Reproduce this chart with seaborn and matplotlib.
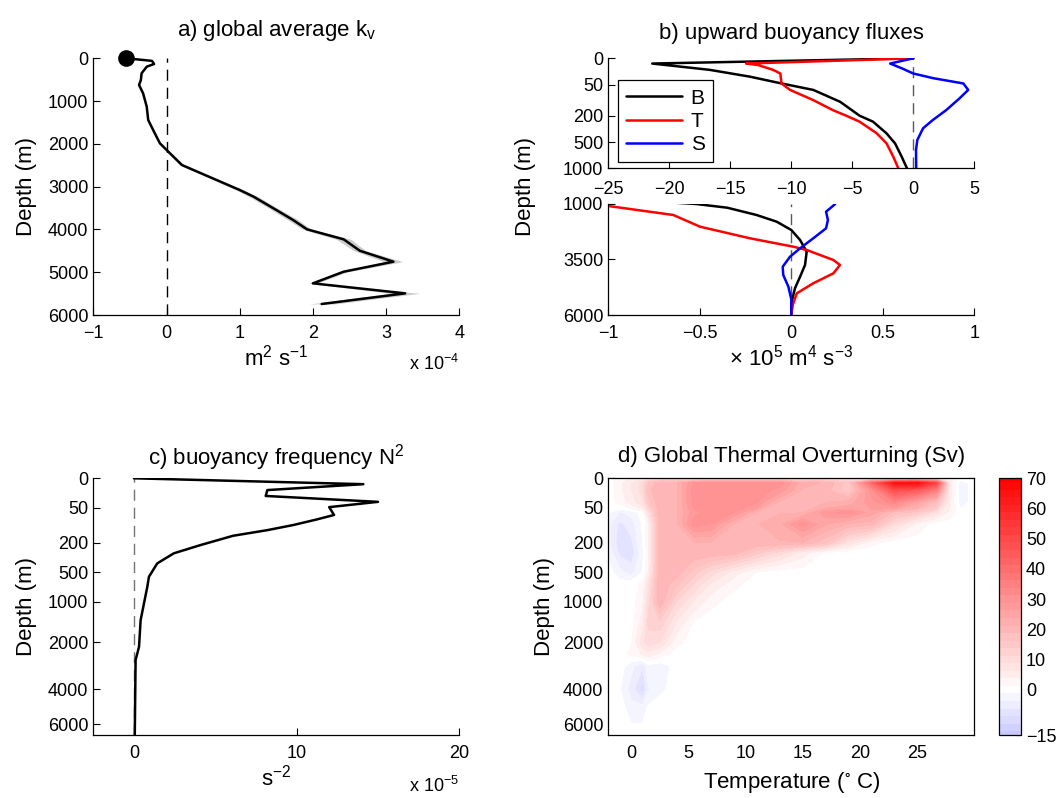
import numpy as np
import matplotlib
matplotlib.use("Agg")
import matplotlib.pyplot as plt
from matplotlib.colors import LinearSegmentedColormap
import seaborn as sns

# ---------------- data ----------------
# a) global average k_v  (x 1e-4 m2/s)
kv_depth = [0, 60, 80, 133, 196, 350, 507, 624, 818, 1131, 1442, 1753, 1987, 2183,
            2494, 3078, 3234, 3546, 3780, 3998, 4231, 4497, 4754, 4988, 5260, 5494, 5743]
kv = [-0.55, -0.2, -0.19, -0.17, -0.27, -0.34, -0.35, -0.375, -0.32, -0.27, -0.25, -0.16,
      -0.09, 0.025, 0.21, 1.0, 1.19, 1.5, 1.73, 1.92, 2.42, 2.64, 3.1, 2.42, 2.0, 3.26, 2.12]
kv_err = [0, 0, 0, 0, 0, 0, 0, 0, 0, 0, 0.01, 0.01, 0.01, 0.02, 0.03, 0.05, 0.06, 0.06,
          0.07, 0.06, 0.1, 0.08, 0.13, 0.06, 0.05, 0.2, 0.17]

# b) upward buoyancy fluxes (x 1e5 m4/s3)
b_depth = [0, 10, 22, 35, 48, 76, 133, 200, 268, 400, 523, 779, 1000, 1167, 1495, 1797,
           2171, 2622, 3149, 3748, 4275, 4797, 5400, 6000]
b_flux = [0, -21.4, -16.7, -13.4, -10.8, -8.2, -6.0, -4.4, -3.3, -2.2, -1.5, -0.95, -0.52,
          -0.35, -0.19, -0.08, 0.0, 0.048, 0.084, 0.075, 0.048, 0.02, 0.002, 0]
t_depth = [0, 10, 13, 22, 29, 48, 76, 125, 173, 200, 268, 400, 523, 779, 1000, 1090, 1495,
           2022, 2545, 2923, 3072, 3523, 3748, 4122, 4572, 5023, 5550, 6000]
t_flux = [0, -13.7, -12.7, -11.5, -10.9, -10.8, -10.1, -8.2, -6.6, -5.5, -4.4, -3.0, -2.2,
          -1.64, -1.23, -1.0, -0.645, -0.499, -0.226, 0.011, 0.084, 0.23, 0.266, 0.23,
          0.12, 0.03, 0.008, 0]
s_depth = [0, 10, 19, 29, 38, 48, 76, 116, 173, 249, 343, 476, 651, 1000, 1347, 1721, 2095,
           2545, 2995, 3374, 3824, 4198, 4725, 5300, 6000]
s_flux = [0, -1.9, -0.95, 0, 1.64, 4.1, 4.5, 3.8, 2.7, 1.6, 0.8, 0.33, 0.22, 0.24, 0.19,
          0.2, 0.19, 0.12, 0.048, -0.007, -0.047, -0.044, -0.016, 0, 0]

# c) buoyancy frequency N^2 (x 1e-5 s^-2)
n2_depth = [0, 10, 20, 30, 40, 49, 81, 100, 124, 146, 170, 223, 307, 409, 575, 745, 1450,
            2187, 2750, 6600]
n2 = [0, 14.1, 8.2, 8.1, 15.0, 12.0, 12.3, 11.25, 9.8, 8.2, 6.1, 4.1, 2.45, 1.43, 0.92,
      0.82, 0.41, 0.31, 0.1, 0.05]

# d) global thermal overturning (Sv) on a coarse temperature / depth grid
temp_nodes = [-2, -1, 0, 1, 1.5, 2.5, 4, 5.5, 7, 9, 11, 13, 15, 17, 19, 21, 23, 25, 26.7,
              27.8, 28.8, 30]
depth_nodes = [0, 8, 20, 40, 70, 120, 200, 300, 500, 700, 1000, 1500, 2000, 2500, 3000,
               4000, 5000, 6600]
psi = [
    [0, 2, 4, 6, 8, 10, 10, 10, 11, 11, 11, 11, 10, 10, 10, 10, 12, 12, 10, 3, 0, 0],
    [0, 3, 6, 10, 16, 21, 21, 29, 30, 30, 30, 30, 22, 21, 15, 40, 64, 66, 50, 6, -3, 0],
    [0, 3, 6, 10, 18, 21, 21, 30, 30, 30, 30, 28, 21, 20, 14, 30, 48, 45, 35, 6, -3, 0],
    [0, 2, 5, 8, 15, 21, 21, 30, 30, 30, 29, 21, 21, 21, 22, 28, 33, 25, 18, 5, -3, 0],
    [-1, -4, -3, 0, 8, 21, 21, 28, 30, 29, 21, 21, 21, 28, 30, 25, 18, 15, 8, 3, 0, 0],
    [-3, -7, -5, -1, 3, 21, 21, 30, 29, 21, 21, 23, 30, 24, 21, 20, 10, 3, 0, 0, 0, 0],
    [-3, -8, -7, -1, 3, 21, 21, 21, 21, 21, 21, 21, 21, 17, 8, 2, 0, 0, 0, 0, 0, 0],
    [-2, -7, -8, -2, 3, 21, 21, 21, 21, 20, 15, 10, 5, 1, 0, 0, 0, 0, 0, 0, 0, 0],
    [0, -3, -5, -1, 4, 21, 20, 15, 10, 5, 1, 0, 0, 0, 0, 0, 0, 0, 0, 0, 0, 0],
    [0, 0, 0, 2, 8, 21, 17, 11, 6, 2, 0, 0, 0, 0, 0, 0, 0, 0, 0, 0, 0, 0],
    [0, 0, 0, 3, 10, 21, 11, 6, 2, 0, 0, 0, 0, 0, 0, 0, 0, 0, 0, 0, 0, 0],
    [0, 0, 0, 5, 12, 13, 6, 1, 0, 0, 0, 0, 0, 0, 0, 0, 0, 0, 0, 0, 0, 0],
    [0, 0, 1, 8, 10, 9, 2, 0, 0, 0, 0, 0, 0, 0, 0, 0, 0, 0, 0, 0, 0, 0],
    [0, 0, 2, 4, 5, 3, 0, 0, 0, 0, 0, 0, 0, 0, 0, 0, 0, 0, 0, 0, 0, 0],
    [0, 0, -3, -6, -2, -3, 0, 0, 0, 0, 0, 0, 0, 0, 0, 0, 0, 0, 0, 0, 0, 0],
    [0, -1, -5, -10, -4, -2, 0, 0, 0, 0, 0, 0, 0, 0, 0, 0, 0, 0, 0, 0, 0, 0],
    [0, 0, -3, -3, -1, 0, 0, 0, 0, 0, 0, 0, 0, 0, 0, 0, 0, 0, 0, 0, 0, 0],
    [0, 0, 0, 0, 0, 0, 0, 0, 0, 0, 0, 0, 0, 0, 0, 0, 0, 0, 0, 0, 0, 0],
]
cbar_ticks = [-15, 0, 10, 20, 30, 40, 50, 60, 70]

# stretched depth axis used in b (upper) c and d
SCALE_D = [-10000, 0, 50, 200, 500, 1000, 2000, 4000, 6000, 100000]
SCALE_P = [-5880, 0, 29.4, 64.4, 94, 123.4, 164, 211, 246, 1891]


def depth_fwd(d):
    return np.interp(d, SCALE_D, SCALE_P)


def depth_inv(p):
    return np.interp(p, SCALE_P, SCALE_D)


# ---------------- style ----------------
sns.set_style("ticks")
plt.rcParams['font.family'] = ['Liberation Sans', 'DejaVu Sans']
plt.rcParams['mathtext.default'] = 'regular'
plt.rcParams['font.size'] = 13
plt.rcParams['text.color'] = 'black'
plt.rcParams['axes.labelcolor'] = 'black'
plt.rcParams['xtick.direction'] = 'in'
plt.rcParams['ytick.direction'] = 'in'
plt.rcParams['xtick.major.size'] = 5
plt.rcParams['ytick.major.size'] = 5
plt.rcParams['xtick.major.pad'] = 7
plt.rcParams['axes.linewidth'] = 0.9
plt.rcParams['axes.edgecolor'] = 'black'
plt.rcParams['xtick.color'] = 'black'
plt.rcParams['ytick.color'] = 'black'

TITLE = 16
LABEL = 16

fig = plt.figure(figsize=(10.59, 7.98), dpi=100)


def box(l, t, r, b):
    return [l / 1059, 1 - b / 798, (r - l) / 1059, (b - t) / 798]


ax_a = fig.add_axes(box(93.3, 58.3, 459.3, 315))
ax_bt = fig.add_axes(box(608.3, 58.3, 974.3, 168.3))
ax_bb = fig.add_axes(box(608.3, 204, 974.3, 315))
ax_c = fig.add_axes(box(93.3, 478.3, 459.3, 735))
ax_d = fig.add_axes(box(608.3, 478.3, 974.3, 735))
cax = fig.add_axes(box(999, 478.3, 1021, 735))

# ---- a) ----
kv_a = np.array(kv)
err_a = np.array(kv_err)
ax_a.fill_betweenx(kv_depth, kv_a - err_a, kv_a + err_a, color='0.8', lw=0)
sns.lineplot(x=kv, y=kv_depth, orient='y', sort=False, estimator=None,
             color='k', linewidth=1.8, ax=ax_a)
ax_a.plot(kv[0], kv_depth[0], 'o', color='k', ms=11, clip_on=False, zorder=5)
ax_a.axvline(0, color='k', ls=(0, (8, 5)), lw=1)
ax_a.set_xlim(-1, 4)
ax_a.set_ylim(6000, 0)
ax_a.set_xticks(range(-1, 5))
ax_a.set_yticks(range(0, 6001, 1000))
ax_a.set_title(r'a) global average k$_v$', fontsize=TITLE, pad=16)
ax_a.set_xlabel(r'm$^2$ s$^{-1}$', fontsize=LABEL, labelpad=2)
ax_a.set_ylabel('Depth (m)', fontsize=LABEL, labelpad=8)
ax_a.text(1.0, -0.19, r'x 10$^{-4}$', transform=ax_a.transAxes, ha='right', va='center',
          fontsize=13)
sns.despine(ax=ax_a)

# ---- b) ----
for ax in (ax_bt, ax_bb):
    ax.axvline(0, color='0.35', ls=(0, (8, 5)), lw=1)
    sns.lineplot(x=b_flux, y=b_depth, orient='y', sort=False, estimator=None,
                 color='k', linewidth=1.8, ax=ax, label='B' if ax is ax_bt else None)
    sns.lineplot(x=t_flux, y=t_depth, orient='y', sort=False, estimator=None,
                 color='#ff0000', linewidth=1.8, ax=ax, label='T' if ax is ax_bt else None)
    sns.lineplot(x=s_flux, y=s_depth, orient='y', sort=False, estimator=None,
                 color='#0000ff', linewidth=1.8, ax=ax, label='S' if ax is ax_bt else None)
    sns.despine(ax=ax)

ax_bt.set_yscale('function', functions=(depth_fwd, depth_inv))
ax_bt.set_ylim(1000, 0)
ax_bt.set_yticks([0, 50, 200, 500, 1000])
ax_bt.yaxis.set_minor_locator(matplotlib.ticker.NullLocator())
ax_bt.set_xlim(-25, 5)
ax_bt.set_xticks(range(-25, 6, 5))
ax_bt.tick_params(axis='x', pad=9)
ax_bt.set_title('b) upward buoyancy fluxes', fontsize=TITLE, pad=14)
ax_bt.legend(loc='upper left', bbox_to_anchor=(0.026, 0.80), frameon=True, fancybox=False,
             edgecolor='black', framealpha=1, fontsize=15, handlelength=2.7,
             labelspacing=0.2, borderpad=0.4, handletextpad=0.4, borderaxespad=0)
ax_bt.get_legend().get_frame().set_linewidth(0.9)

ax_bb.set_ylim(6000, 1000)
ax_bb.set_yticks([1000, 3500, 6000])
ax_bb.set_xlim(-1, 1)
ax_bb.set_xticks([-1, -0.5, 0, 0.5, 1])
ax_bb.set_xticklabels(['\u22121', '\u22120.5', '0', '0.5', '1'])
ax_bb.set_xlabel(r'$\times$ 10$^5$ m$^4$ s$^{-3}$', fontsize=LABEL, labelpad=2)
fig.text(525 / 1059, 1 - 187 / 798, 'Depth (m)', rotation=90, ha='center', va='center',
         fontsize=LABEL)

# ---- c) ----
ax_c.axvline(0, color='0.45', ls=(0, (8, 5)), lw=1)
sns.lineplot(x=n2, y=n2_depth, orient='y', sort=False, estimator=None,
             color='k', linewidth=1.8, ax=ax_c)
ax_c.set_yscale('function', functions=(depth_fwd, depth_inv))
ax_c.set_ylim(6600, 0)
ax_c.set_yticks([0, 50, 200, 500, 1000, 2000, 4000, 6000])
ax_c.yaxis.set_minor_locator(matplotlib.ticker.NullLocator())
ax_c.set_xlim(-2.5, 20)
ax_c.set_xticks([0, 10, 20])
ax_c.set_title(r'c) buoyancy frequency N$^2$', fontsize=TITLE, pad=10)
ax_c.set_xlabel(r's$^{-2}$', fontsize=LABEL, labelpad=2)
ax_c.set_ylabel('Depth (m)', fontsize=LABEL, labelpad=8)
ax_c.text(1.0, -0.2, r'x 10$^{-5}$', transform=ax_c.transAxes, ha='right', va='center',
          fontsize=13)
sns.despine(ax=ax_c)

# ---- d) ----
cmap = LinearSegmentedColormap.from_list(
    'bwr_part', [(0, (0.786, 0.786, 1.0)), (15 / 85, (1, 1, 1)), (1, (1, 0, 0))])
levels = np.arange(-16.25, 71.3, 2.5)
cf = ax_d.contourf(temp_nodes, depth_nodes, np.array(psi), levels=levels, cmap=cmap,
                   vmin=-15, vmax=70)
ax_d.set_yscale('function', functions=(depth_fwd, depth_inv))
ax_d.set_ylim(6600, 0)
ax_d.set_yticks([0, 50, 200, 500, 1000, 2000, 4000, 6000])
ax_d.yaxis.set_minor_locator(matplotlib.ticker.NullLocator())
ax_d.set_xlim(-2, 30)
ax_d.set_xticks(range(0, 26, 5))
ax_d.tick_params(top=True, right=True)
ax_d.set_title('d) Global Thermal Overturning (Sv)', fontsize=TITLE, pad=12)
ax_d.set_xlabel(r'Temperature ($^{\circ}$ C)', fontsize=LABEL, labelpad=6)
ax_d.set_ylabel('Depth (m)', fontsize=LABEL, labelpad=6)

cb = fig.colorbar(cf, cax=cax, ticks=cbar_ticks)
cb.outline.set_linewidth(0.9)
cax.set_ylim(-15, 70)
cax.tick_params(direction='in', length=4, labelsize=13)

fig.savefig('out.png', dpi=100)
